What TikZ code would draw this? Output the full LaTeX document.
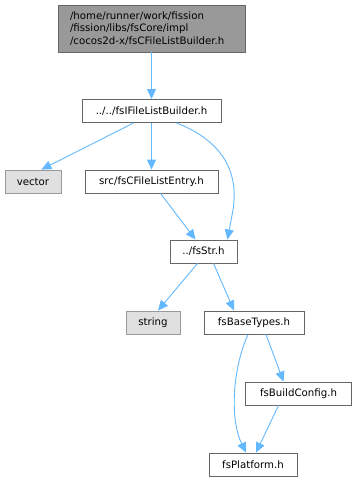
\documentclass[tikz,border=0pt]{standalone}
\usepackage{fontspec}
\setmainfont{DejaVu Sans}
\usetikzlibrary{arrows.meta}
\definecolor{edgec}{HTML}{63B8FF}
\definecolor{boxb}{HTML}{666666}
\definecolor{rootf}{HTML}{999999}
\definecolor{extf}{HTML}{E0E0E0}
\definecolor{extb}{HTML}{999999}
\tikzset{
  filebox/.style={draw=boxb, fill=white, line width=0.9pt, minimum height=23pt, inner xsep=3pt, font=\fontsize{10.2}{12}\selectfont, anchor=center},
  extbox/.style={filebox, draw=extb, fill=extf},
  rootbox/.style={draw=boxb, fill=rootf, line width=0.9pt, align=left, inner xsep=12pt, inner ysep=2pt, font=\fontsize{10.2}{12.3}\selectfont},
  dep/.style={draw=edgec, line width=0.9pt, -{Triangle[length=10pt,width=9pt]}}
}
\begin{document}
\begin{tikzpicture}[x=1pt,y=-1pt]
\useasboundingbox (0,0) rectangle (356,481);
\node[rootbox, text width=163pt, minimum height=47pt] (root) at (151.5,28.5) {/home/runner/work/fission\\/fission/libs/fsCore/impl\\/cocos2d-x/fsCFileListBuilder.h};
\node[filebox, minimum width=139pt] (ifl) at (151.5,111) {../../fsIFileListBuilder.h};
\node[extbox, minimum width=56pt] (vec) at (33,181.5) {vector};
\node[filebox, minimum width=133pt] (ent) at (151.5,181.5) {src/fsCFileListEntry.h};
\node[filebox, minimum width=67pt] (str) at (203.5,251.5) {../fsStr.h};
\node[extbox, minimum width=54pt] (string) at (153,322.5) {string};
\node[filebox, minimum width=100pt] (bt) at (254,322.5) {fsBaseTypes.h};
\node[filebox, minimum width=106pt] (bc) at (298.5,393.5) {fsBuildConfig.h};
\node[filebox, minimum width=88pt] (pl) at (253,464.5) {fsPlatform.h};
\draw[dep] (root) -- (ifl);
\draw[dep] ([xshift=-18pt]ifl.south) -- ([xshift=-20pt]vec.north east);
\draw[dep] (ifl) -- (ent);
\draw[dep] ([xshift=25pt]ifl.south) .. controls (215,138) and (240,165) .. (233,210) -- ([xshift=-10pt]str.north east);
\draw[dep] ([xshift=9pt]ent.south) -- ([xshift=-8pt]str.north);
\draw[dep] ([xshift=-6pt]str.south) -- ([xshift=5pt]string.north);
\draw[dep] ([xshift=10pt]str.south) -- ([xshift=-20pt]bt.north);
\draw[dep] ([xshift=12pt]bt.south) -- ([xshift=-15pt]bc.north);
\draw[dep] ([xshift=-6pt]bt.south) .. controls (232,370) and (230,420) .. ([xshift=-7pt]pl.north);
\draw[dep] ([xshift=-20pt]bc.south) -- ([xshift=3pt]pl.north);
\end{tikzpicture}
\end{document}
